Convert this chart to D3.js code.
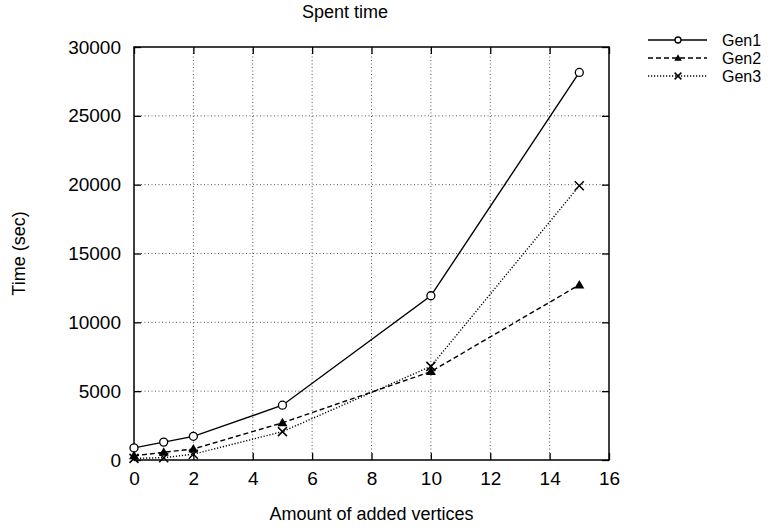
<!DOCTYPE html>
<html>
<head>
<meta charset="utf-8">
<script src="https://cdn.jsdelivr.net/npm/d3@7"></script>
<style>
  body { margin: 0; background: #fff; }
  svg { display: block; font-family: "Liberation Sans", Arial, sans-serif; }
</style>
</head>
<body>
<div id="chart"></div>
<script>
// values
const xValues = [0, 1, 2, 5, 10, 15];
const gen1 = [880, 1300, 1720, 3980, 11930, 28150];
const gen2 = [300, 560, 800, 2700, 6420, 12720];
const gen3 = [120, 170, 420, 2060, 6800, 19920];
const seriesNames = ["Gen1", "Gen2", "Gen3"];
const xTicks = [0, 2, 4, 6, 8, 10, 12, 14, 16];
const yTicks = [0, 5000, 10000, 15000, 20000, 25000, 30000];

const width = 776;
const height = 529;
const margin = { top: 47, right: 167, bottom: 69, left: 134 };
const plotW = width - margin.left - margin.right;
const plotH = height - margin.top - margin.bottom;

const svg = d3.select("#chart")
  .append("svg")
  .attr("width", width)
  .attr("height", height);

const x = d3.scaleLinear().domain([0, 16]).range([margin.left, margin.left + plotW]);
const y = d3.scaleLinear().domain([0, 30000]).range([margin.top + plotH, margin.top]);

// grid
const grid = svg.append("g").attr("stroke", "#555").attr("stroke-width", 1)
  .attr("stroke-dasharray", "1,2.5");
grid.selectAll(".gx")
  .data(xTicks.slice(1, -1))
  .join("line")
  .attr("x1", d => x(d)).attr("x2", d => x(d))
  .attr("y1", y(0)).attr("y2", y(30000));
grid.selectAll(".gy")
  .data(yTicks.slice(1, -1))
  .join("line")
  .attr("y1", d => y(d)).attr("y2", d => y(d))
  .attr("x1", x(0)).attr("x2", x(16));

// axes with inward ticks, mirrored on top/right
const tickLen = 7;
const fmt = d3.format("d");
svg.append("g")
  .attr("transform", `translate(0,${y(0)})`)
  .call(d3.axisBottom(x).tickValues(xTicks).tickFormat(fmt).tickSizeInner(-tickLen).tickSizeOuter(0).tickPadding(12))
  .call(g => g.select(".domain").remove());
svg.append("g")
  .attr("transform", `translate(0,${y(30000)})`)
  .call(d3.axisTop(x).tickValues(xTicks).tickSizeInner(-tickLen).tickSizeOuter(0).tickFormat(""))
  .call(g => g.select(".domain").remove());
svg.append("g")
  .attr("transform", `translate(${x(0)},0)`)
  .call(d3.axisLeft(y).tickValues(yTicks).tickFormat(fmt).tickSizeInner(-tickLen).tickSizeOuter(0).tickPadding(13))
  .call(g => g.select(".domain").remove());
svg.append("g")
  .attr("transform", `translate(${x(16)},0)`)
  .call(d3.axisRight(y).tickValues(yTicks).tickSizeInner(-tickLen).tickSizeOuter(0).tickFormat(""))
  .call(g => g.select(".domain").remove());

svg.selectAll(".tick line").attr("stroke", "#000").attr("stroke-width", 1.3);
svg.selectAll(".tick text").attr("font-size", 19).attr("fill", "#000")
  .attr("font-family", "Liberation Sans, Arial, sans-serif");

// border
svg.append("rect")
  .attr("x", x(0)).attr("y", y(30000))
  .attr("width", x(16) - x(0)).attr("height", y(0) - y(30000))
  .attr("fill", "none").attr("stroke", "#000").attr("stroke-width", 1.5);

// series
const series = [
  { name: seriesNames[0], values: gen1, dash: null, marker: "circle" },
  { name: seriesNames[1], values: gen2, dash: "5,3", marker: "triangle" },
  { name: seriesNames[2], values: gen3, dash: "1.2,1.8", marker: "cross" }
];

const line = d3.line().x(d => x(d[0])).y(d => y(d[1]));

function drawMarker(g, type, cx, cy, s) {
  if (type === "circle") {
    g.append("circle").attr("cx", cx).attr("cy", cy).attr("r", 4 * s)
      .attr("fill", "#fff").attr("stroke", "#000").attr("stroke-width", 1.3);
  } else if (type === "triangle") {
    const r = 5 * s;
    g.append("path")
      .attr("d", `M${cx},${cy - r}L${cx + r},${cy + r * 0.7}L${cx - r},${cy + r * 0.7}Z`)
      .attr("fill", "#000");
  } else {
    const r = 4.5 * s;
    g.append("path")
      .attr("d", `M${cx - r},${cy - r}L${cx + r},${cy + r}M${cx - r},${cy + r}L${cx + r},${cy - r}`)
      .attr("stroke", "#000").attr("stroke-width", 1.5);
  }
}

series.forEach(s => {
  const pts = xValues.map((v, i) => [v, s.values[i]]);
  svg.append("path")
    .datum(pts)
    .attr("d", line)
    .attr("fill", "none")
    .attr("stroke", "#000")
    .attr("stroke-width", 1.4)
    .attr("stroke-dasharray", s.dash);
  const mg = svg.append("g");
  pts.forEach(p => drawMarker(mg, s.marker, x(p[0]), y(p[1]), 1));
});

// legend
const legendY = [40, 58, 76];
series.forEach((s, i) => {
  const ly = legendY[i];
  svg.append("line")
    .attr("x1", 648).attr("x2", 707).attr("y1", ly).attr("y2", ly)
    .attr("stroke", "#000").attr("stroke-width", 1.4)
    .attr("stroke-dasharray", s.dash);
  const mg = svg.append("g");
  drawMarker(mg, s.marker, 678, ly, 0.75);
  svg.append("text")
    .attr("x", 722).attr("y", ly)
    .attr("dy", "0.35em")
    .attr("font-size", 16)
    .text(s.name);
});

// titles
svg.append("text")
  .attr("x", 345).attr("y", 18)
  .attr("text-anchor", "middle").attr("font-size", 18)
  .text("Spent time");
svg.append("text")
  .attr("x", (x(0) + x(16)) / 2).attr("y", 520)
  .attr("text-anchor", "middle").attr("font-size", 18)
  .text("Amount of added vertices");
svg.append("text")
  .attr("transform", `translate(19,${(y(0) + y(30000)) / 2}) rotate(-90)`)
  .attr("dy", "0.35em")
  .attr("text-anchor", "middle").attr("font-size", 18)
  .text("Time (sec)");
</script>
</body>
</html>
